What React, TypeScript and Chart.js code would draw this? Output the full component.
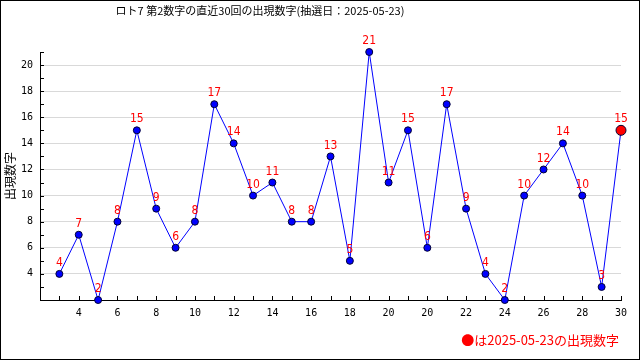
import React, { useEffect, useRef } from "react";
import { Chart, registerables } from "chart.js";

Chart.register(...registerables);

const TITLE = "ロト7 第2数字の直近30回の出現数字(抽選日：2025-05-23)";
const NOTE = "●は2025-05-23の出現数字";
const Y_TITLE = "出現数字";

const drawIndex = [0, 1, 2, 3, 4, 5, 6, 7, 8, 9, 10, 11, 12, 13, 14, 15, 16, 17, 18, 19, 20, 21, 22, 23, 24, 25, 26, 27, 28, 29];
const values = [4, 7, 2, 8, 15, 9, 6, 8, 17, 14, 10, 11, 8, 8, 13, 5, 21, 11, 15, 6, 17, 9, 4, 2, 10, 12, 14, 10, 3, 15];
const xTickLabels = ["", "4", "", "6", "", "8", "", "10", "", "12", "", "14", "", "16", "", "18", "", "20", "", "20", "", "22", "", "24", "", "26", "", "28", "", "30"];
const yTickLabels = [4, 6, 8, 10, 12, 14, 16, 18, 20];

const X_MIN = -1;
const X_MAX = 29;
const Y_MIN = 2;
const Y_MAX = 21;

const decorPlugin = {
  id: "decor",
  beforeDatasetsDraw(chart: any) {
    const ctx = chart.ctx;
    const xs = chart.scales.x;
    const ys = chart.scales.y;
    const area = chart.chartArea;
    ctx.save();
    ctx.strokeStyle = "#000";
    ctx.lineWidth = 1;
    ctx.beginPath();
    for (let v = X_MIN; v <= X_MAX; v++) {
      const px = Math.round(xs.getPixelForValue(v)) + 0.5;
      ctx.moveTo(px, area.bottom);
      ctx.lineTo(px, area.bottom - 4);
    }
    for (let v = Y_MIN; v <= Y_MAX; v++) {
      const py = Math.round(ys.getPixelForValue(v)) + 0.5;
      ctx.moveTo(area.left, py);
      ctx.lineTo(area.left + 4, py);
    }
    ctx.stroke();
    ctx.restore();
  },
  afterDatasetsDraw(chart: any) {
    const ctx = chart.ctx;
    const meta = chart.getDatasetMeta(0);
    ctx.save();
    ctx.fillStyle = "#ff0000";
    ctx.font = '12px "Liberation Sans Narrow", "DejaVu Sans Condensed", "DejaVu Sans", sans-serif';
    try {
      (ctx as any).fontStretch = "condensed";
    } catch (e) {}
    ctx.textAlign = "center";
    ctx.textBaseline = "middle";
    meta.data.forEach((pt: any, i: number) => {
      ctx.fillText(String(values[i]), pt.x, pt.y - 11);
    });
    ctx.restore();
  },
  afterDraw(chart: any) {
    const ctx = chart.ctx;
    ctx.save();
    ctx.fillStyle = "#000";
    ctx.font = '11px "Noto Sans CJK JP", sans-serif';
    ctx.textAlign = "center";
    ctx.textBaseline = "middle";
    ctx.fillText(TITLE, 260, 11);
    ctx.fillStyle = "#ff0000";
    ctx.font = '13px "Noto Sans CJK JP", sans-serif';
    ctx.textAlign = "right";
    ctx.fillText(NOTE, chart.chartArea.right - 2, 340);
    ctx.strokeStyle = "#000";
    ctx.lineWidth = 1;
    ctx.strokeRect(0.5, 0.5, chart.width - 1, chart.height - 1);
    ctx.restore();
  },
};

export default function App() {
  const ref = useRef<HTMLCanvasElement | null>(null);
  useEffect(() => {
    document.body.style.margin = "0";
    const canvas = ref.current;
    if (!canvas) return;
    const last = values.length - 1;
    const tickFont = { family: '"DejaVu Sans Mono", monospace', size: 10 };
    const chart = new Chart(canvas, {
      type: "line",
      data: {
        datasets: [
          {
            data: values.map((v, i) => ({ x: drawIndex[i], y: v })),
            borderColor: "#0000ff",
            borderWidth: 1,
            tension: 0,
            pointRadius: values.map((_, i) => (i === last ? 5 : 3.5)),
            pointBackgroundColor: values.map((_, i) => (i === last ? "#ff0000" : "#0000ff")),
            pointBorderColor: "#000033",
            pointBorderWidth: 1,
            clip: false as any,
          },
        ],
      },
      options: {
        responsive: false,
        animation: false,
        devicePixelRatio: 1,
        layout: { padding: { top: 52, right: 19, bottom: 40, left: 0 } },
        plugins: {
          legend: { display: false },
          tooltip: { enabled: false },
          title: { display: false },
        },
        scales: {
          x: {
            type: "linear",
            min: X_MIN,
            max: X_MAX,
            afterFit(s: any) {
              s.height = 20;
            },
            ticks: {
              stepSize: 1,
              autoSkip: false,
              maxRotation: 0,
              padding: 7,
              font: tickFont,
              color: "#000",
              callback: (v: any) => xTickLabels[v] ?? "",
            },
            grid: { display: false, drawTicks: false },
            border: { display: true, color: "#000", width: 1 },
          },
          y: {
            type: "linear",
            min: Y_MIN,
            max: Y_MAX,
            afterFit(s: any) {
              s.width = 40;
            },
            ticks: {
              stepSize: 1,
              autoSkip: false,
              padding: 7,
              font: tickFont,
              color: "#000",
              callback: (v: any) => (yTickLabels.includes(v) ? String(v) : ""),
            },
            grid: {
              drawTicks: false,
              color: (c: any) => (c.tick && yTickLabels.includes(c.tick.value) ? "#d9d9d9" : "rgba(0,0,0,0)"),
            },
            border: { display: true, color: "#000", width: 1 },
            title: {
              display: true,
              text: Y_TITLE,
              color: "#000",
              font: { family: '"Noto Sans CJK JP", sans-serif', size: 12 },
              padding: { top: 3, bottom: 0 },
            },
          },
        },
      },
      plugins: [decorPlugin],
    } as any);
    return () => chart.destroy();
  }, []);
  return (
    <div style={{ position: "absolute", left: 0, top: 0, width: 640, height: 360, background: "#fff" }}>
      <canvas ref={ref} width={640} height={360} style={{ display: "block" }} />
    </div>
  );
}
